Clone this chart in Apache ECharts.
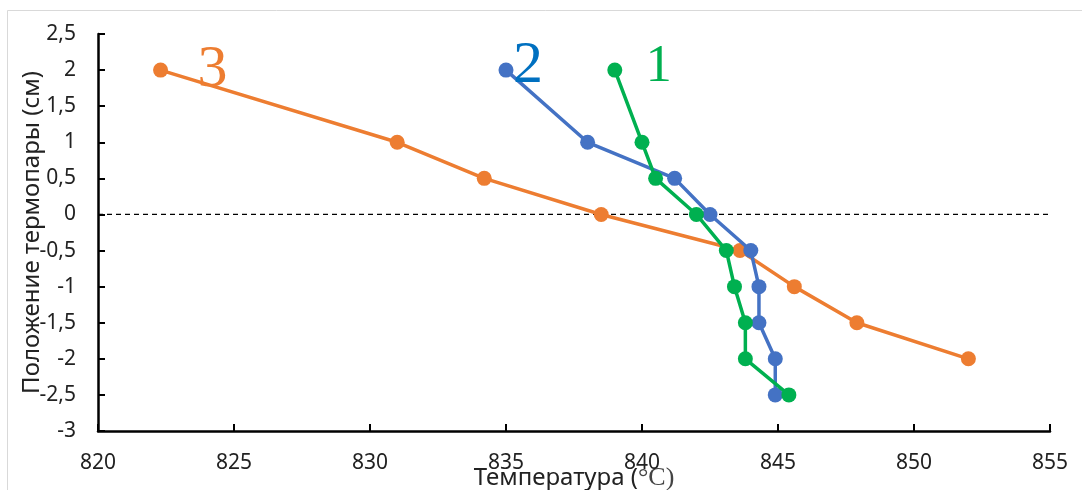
<!DOCTYPE html>
<html>
<head>
<meta charset="utf-8">
<script src="https://cdn.jsdelivr.net/npm/echarts@6/dist/echarts.min.js"></script>
<style>
  html, body { margin: 0; padding: 0; background: #fff; }
  #chart { width: 1082px; height: 490px; }
</style>
</head>
<body>
<div id="chart"></div>
<script>
// Thermocouple position (cm) versus temperature (°C) for three runs
const positions = [2, 1, 0.5, 0, -0.5, -1, -1.5, -2, -2.5];
const temps1 = [839.0, 840.0, 840.5, 842.0, 843.1, 843.4, 843.8, 843.8, 845.4];
const temps2 = [835.0, 838.0, 841.2, 842.5, 844.0, 844.3, 844.3, 844.9, 844.9];
const temps3 = [822.3, 831.0, 834.2, 838.5, 843.6, 845.6, 847.9, 852.0];
const seriesNames = ['1', '2', '3'];
const xTicks = { min: 820, max: 855, step: 5 };
const yTicks = { min: -3, max: 2.5, step: 0.5 };
const xTitle = 'Температура (';
const xTitleUnit = '°C)';
const yTitle = 'Положение термопары (см)';

const lineColors = ['#00B050', '#4472C4', '#ED7D31'];
const tagColors = ['#00B050', '#0070C0', '#ED7D31'];

function pairs(temps) {
  return temps.map((t, i) => [t, positions[i]]);
}

function curve(idx, temps, tagOffset, tagSize) {
  return {
    name: seriesNames[idx],
    type: 'line',
    data: pairs(temps),
    symbol: 'circle',
    symbolSize: 15,
    lineStyle: { width: 3.5, color: lineColors[idx] },
    itemStyle: { color: lineColors[idx] },
    label: {
      show: true,
      position: 'inside',
      offset: tagOffset,
      formatter: p => (p.dataIndex === 0 ? seriesNames[idx] : ''),
      fontFamily: 'Liberation Serif',
      fontSize: tagSize,
      color: tagColors[idx]
    },
    emphasis: { disabled: true },
    z: 3 + (2 - idx)
  };
}

const chart = echarts.init(document.getElementById('chart'), null, { renderer: 'canvas' });

chart.setOption({
  animation: false,
  backgroundColor: '#fff',
  graphic: [{
    type: 'rect',
    shape: { x: 7.5, y: 10.5, width: 1200, height: 600 },
    style: { fill: 'none', stroke: '#d9d9d9', lineWidth: 1 },
    silent: true
  }],
  grid: { left: 98, right: 32, top: 34, bottom: 59, outerBoundsMode: 'none', containLabel: false },
  xAxis: {
    type: 'value',
    min: xTicks.min,
    max: xTicks.max,
    interval: xTicks.step,
    name: '{a|' + xTitle + '}{b|' + xTitleUnit + '}',
    nameLocation: 'middle',
    nameGap: 34,
    nameMoveOverlap: false,
    nameTextStyle: {
      rich: {
        a: { fontFamily: 'Noto Sans', fontSize: 24, color: '#222' },
        b: { fontFamily: 'Liberation Serif', fontSize: 26, color: '#444' }
      }
    },
    axisLine: { show: true, onZero: false, lineStyle: { color: '#000', width: 2.5 } },
    axisTick: { show: true, inside: true, length: 7, lineStyle: { color: '#000', width: 2 } },
    axisLabel: { fontFamily: 'Noto Sans', fontSize: 21, color: '#222', margin: 22 },
    splitLine: { show: false }
  },
  yAxis: {
    type: 'value',
    min: yTicks.min,
    max: yTicks.max,
    interval: yTicks.step,
    name: yTitle,
    nameLocation: 'middle',
    nameGap: 54,
    nameMoveOverlap: false,
    nameTextStyle: { fontFamily: 'Noto Sans', fontSize: 24, color: '#222' },
    axisLine: { show: true, onZero: false, lineStyle: { color: '#000', width: 2.5 } },
    axisTick: { show: true, inside: true, length: 7, lineStyle: { color: '#000', width: 2 } },
    axisLabel: {
      fontFamily: 'Noto Sans', fontSize: 21, color: '#222', margin: 22,
      formatter: v => String(v).replace('.', ',')
    },
    splitLine: { show: false }
  },
  series: [
    {
      name: 'zero',
      type: 'line',
      data: [[xTicks.min, 0], [xTicks.max, 0]],
      symbol: 'none',
      lineStyle: { color: '#000', width: 1.3, type: [5, 4] },
      emphasis: { disabled: true },
      silent: true,
      z: 1
    },
    curve(2, temps3, [52, 0], 60),
    curve(1, temps2, [22, -4], 60),
    curve(0, temps1, [44, -3], 52)
  ]
});
</script>
</body>
</html>
